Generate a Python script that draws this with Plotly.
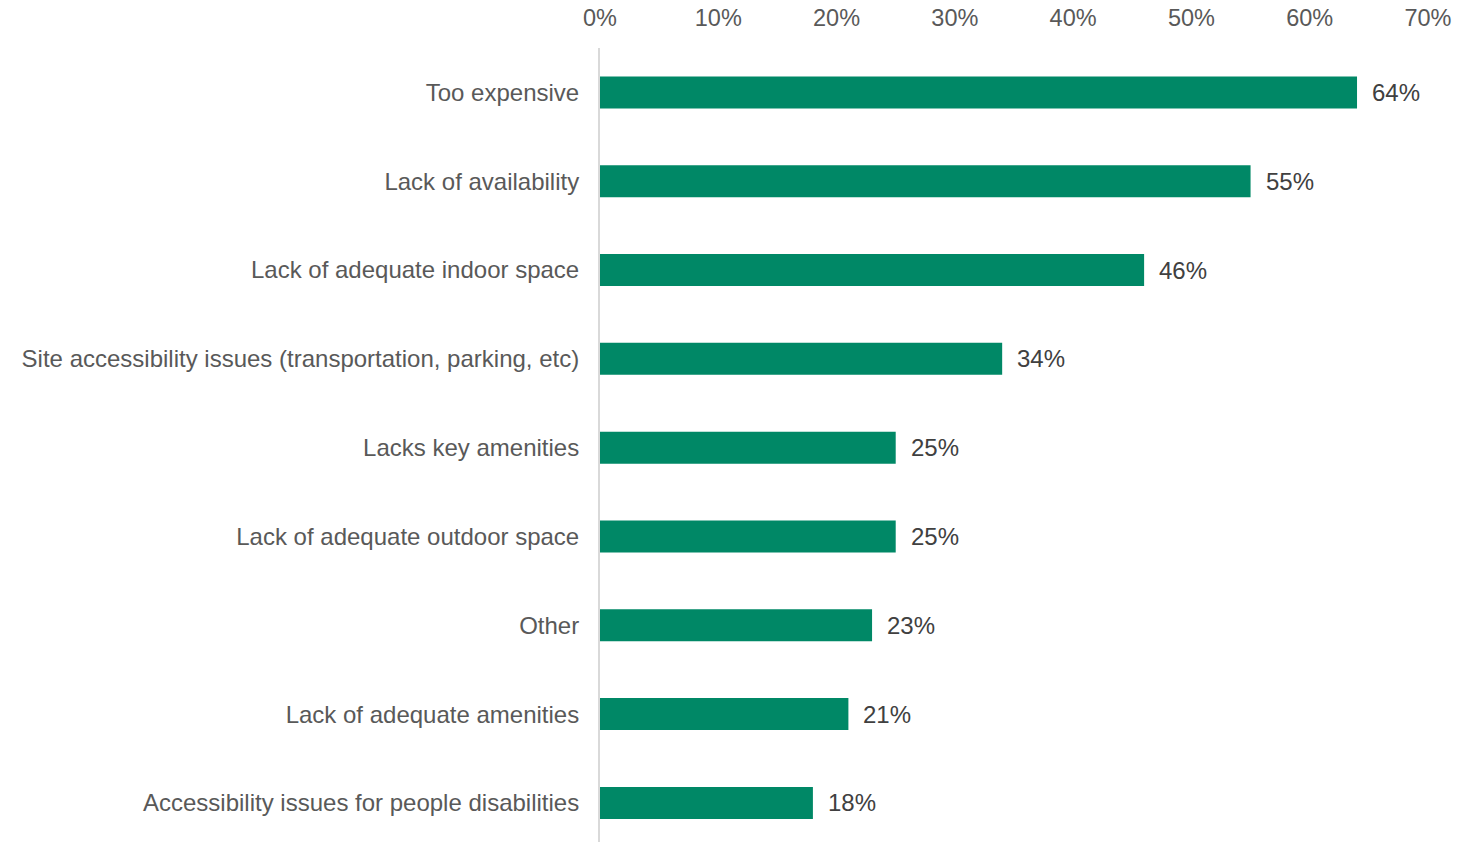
import plotly.graph_objects as go

categories = [
    "Too expensive",
    "Lack of availability",
    "Lack of adequate indoor space",
    "Site accessibility issues (transportation, parking, etc)",
    "Lacks key amenities",
    "Lack of adequate outdoor space",
    "Other",
    "Lack of adequate amenities",
    "Accessibility issues for people disabilities",
]
values = [64, 55, 46, 34, 25, 25, 23, 21, 18]
x_ticks = [0, 10, 20, 30, 40, 50, 60, 70]
x_tick_labels = [f"{t}%" for t in x_ticks]

BAR_COLOR = "#008866"
FONT = "Liberation Sans, Arial, sans-serif"

fig = go.Figure(
    go.Bar(
        x=values,
        y=categories,
        orientation="h",
        marker=dict(color=BAR_COLOR, line=dict(width=0)),
        width=0.36,
        hoverinfo="skip",
    )
)

# value labels to the right of each bar
for cat, v in zip(categories, values):
    fig.add_annotation(
        x=v, y=cat, text=f"{v}%", showarrow=False,
        xanchor="left", yanchor="middle", xshift=13,
        font=dict(family=FONT, size=24, color="#404040"),
    )

fig.update_layout(
    width=1473, height=842,
    margin=dict(l=600, r=45, t=48, b=0),
    paper_bgcolor="white", plot_bgcolor="white",
    showlegend=False,
    font=dict(family=FONT, size=24, color="#595959"),
    xaxis=dict(
        side="top", range=[0, 70], tickvals=x_ticks, ticktext=x_tick_labels,
        showgrid=False, zeroline=False, showline=False, ticks="",
        ticklabelstandoff=16,
        tickfont=dict(family=FONT, size=23.5, color="#595959"),
        fixedrange=True,
    ),
    yaxis=dict(
        type="category", categoryorder="array", categoryarray=categories,
        range=[8.44, -0.5], showgrid=False, zeroline=False,
        showline=True, linecolor="#d9d9d9", linewidth=2, ticks="",
        ticklabelstandoff=14,
        tickfont=dict(family=FONT, size=24, color="#595959"),
        fixedrange=True,
    ),
)

fig.write_html("out.html")
